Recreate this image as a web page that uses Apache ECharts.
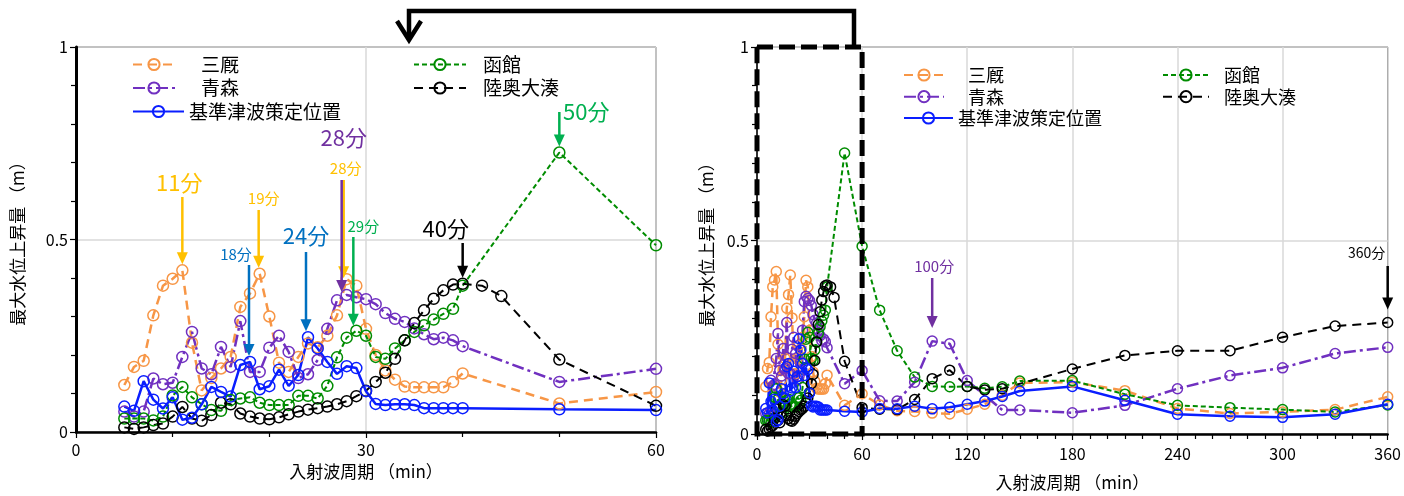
<!DOCTYPE html>
<html><head><meta charset="utf-8">
<script src="https://cdn.jsdelivr.net/npm/echarts@6/dist/echarts.min.js"></script>
<style>html,body{margin:0;padding:0;background:#fff}#c{width:1404px;height:496px}</style>
</head><body><div id="c"></div>
<script>
// ---- data (minutes, max water rise in m) ----
const periods = [5,6,7,8,9,10,11,12,13,14,15,16,17,18,19,20,21,22,23,24,25,26,27,28,29,30,31,32,33,34,35,36,37,38,39,40,
  42,44,50,60,70,80,90,100,110,120,130,140,150,180,210,240,270,300,330,360];
const minmaya = [0.122,0.169,0.185,0.303,0.380,0.398,0.420,0.232,0.108,0.140,
  0.165,0.195,0.325,0.360,0.411,0.300,0.180,0.156,0.195,0.230,
  0.220,0.250,0.303,0.397,0.380,0.268,0.200,0.160,0.136,0.118,
  0.116,0.116,0.116,0.116,0.130,0.152,
  null,null,0.074,0.104,
  0.075,0.060,0.058,0.054,0.052,0.064,0.077,0.100,0.132,
  0.134,0.112,0.066,0.053,0.057,0.063,0.096];
const aomori = [0.053,0.040,0.053,0.139,0.124,0.128,0.195,0.260,0.165,0.150,
  0.221,0.169,0.288,0.156,0.156,0.219,0.250,0.208,0.140,0.150,
  0.187,0.268,0.342,0.356,0.350,0.345,0.332,0.309,0.294,0.286,
  0.269,0.254,0.241,0.245,0.238,0.223,
  null,null,0.130,0.164,
  0.086,0.085,0.134,0.240,0.233,0.138,null,0.062,0.062,
  0.055,0.074,0.117,0.151,0.171,0.208,0.224];
const hakodate = [0.035,0.035,0.035,0.030,0.040,0.095,0.117,0.090,0.072,0.057,
  0.055,0.083,0.087,0.090,0.076,0.070,0.070,0.070,0.094,0.094,
  0.087,0.120,0.194,0.245,0.263,0.250,0.195,0.190,0.217,0.238,
  0.260,0.277,0.292,0.307,0.320,0.380,
  null,null,0.726,0.485,
  0.320,0.215,0.147,0.123,0.122,0.123,0.118,0.122,0.137,
  0.138,0.103,0.074,0.068,0.063,0.057,0.075];
const mutsu = [0.012,0.008,0.012,0.018,0.022,0.040,0.065,0.035,0.029,0.044,
  0.076,0.072,0.048,0.040,0.035,0.033,0.038,0.046,0.053,0.058,
  0.062,0.066,0.072,0.080,0.093,0.107,0.130,0.154,0.190,0.238,
  0.283,0.316,0.346,0.368,0.383,0.385,
  0.380,0.353,0.188,0.068,
  0.064,0.063,0.089,0.143,0.165,0.123,0.114,0.117,null,
  0.168,0.203,0.215,0.215,0.250,0.279,0.288];
const kijun = [0.066,0.055,0.132,0.084,0.061,0.090,0.032,0.037,0.072,0.117,
  0.104,0.092,0.174,0.182,0.111,0.119,0.162,0.120,0.148,0.246,
  0.217,0.182,0.151,0.171,0.166,0.106,0.073,0.070,0.072,0.072,
  0.070,0.062,0.062,0.062,0.062,0.062,
  null,null,0.059,0.057,
  0.066,0.065,0.072,0.065,0.069,0.077,0.085,0.097,0.111,
  0.123,0.087,0.051,0.046,0.043,0.051,0.077];
const names = ['三厩','青森','函館','陸奥大湊','基準津波策定位置'];
const xTicksLeft = [0,30,60];
const xTicksRight = [0,60,120,180,240,300,360];

// ---- styles ----
const FONT = 'Noto Sans CJK JP';
const styles = {
  '三厩': {c:'#F79646', w:2.5, t:[9,6]},
  '青森': {c:'#7030C0', w:2.5, t:[12,4,3,4]},
  '函館': {c:'#008C00', w:2, t:[5,3]},
  '陸奥大湊': {c:'#000000', w:2, t:[9,6]},
  '基準津波策定位置': {c:'#0A1EFF', w:2.5, t:'solid'}
};
const values = {'三厩':minmaya,'青森':aomori,'函館':hakodate,'陸奥大湊':mutsu,'基準津波策定位置':kijun};

function mkSeries(name, gi){
  const s = styles[name];
  const xmax = gi===0 ? xTicksLeft[xTicksLeft.length-1] : xTicksRight[xTicksRight.length-1];
  const data = periods.map((p,i)=>[p, values[name][i]]).filter(d=>d[1]!==null && d[0]<=xmax);
  return {
    type:'line', name, xAxisIndex:gi, yAxisIndex:gi, data,
    symbol:'circle', symbolSize: gi===0?11:10, connectNulls:true,
    lineStyle:{color:s.c, width:s.w, type:s.t},
    itemStyle:{color:'rgba(255,255,255,0)', borderColor:s.c, borderWidth:1.5},
    emphasis:{disabled:true}, animation:false
  };
}
const order = ['三厩','青森','函館','陸奥大湊','基準津波策定位置'];
const series = [];
[0,1].forEach(gi=>order.forEach(n=>series.push(mkSeries(n,gi))));

function xAxis(gi, max, interval, minorSplit, nameGap, margin){
  return {type:'value', gridIndex:gi, min:0, max, interval,
    name:'入射波周期 （min）', nameLocation:'middle', nameGap,
    nameTextStyle:{fontSize:17, color:'#000', fontFamily:FONT},
    axisLine:{show:true, lineStyle:{color:'#000', width:2.5}},
    axisTick:{show:true, length:6, lineStyle:{color:'#000', width:1.2}},
    minorTick:{show:true, splitNumber:minorSplit, length:5, lineStyle:{color:'#000', width:1.2}},
    splitLine:{show:true, lineStyle:{color:'#d9d9d9', width:1.5}},
    axisLabel:{fontSize:16, color:'#000', margin, fontFamily:FONT}};
}
function yAxis(gi, nameGap){
  return {type:'value', gridIndex:gi, min:0, max:1, interval:0.5,
    name:'最大水位上昇量 （m）', nameLocation:'middle', nameGap,
    nameTextStyle:{fontSize:17, color:'#000', fontFamily:FONT},
    axisLine:{show:true, lineStyle:{color:'#000', width:gi===0?3:1.5}},
    axisTick:{show:true, length:6, lineStyle:{color:'#000', width:1.2}},
    minorTick:{show:true, splitNumber:5, length:5, lineStyle:{color:'#000', width:1.2}},
    splitLine:{show:true, lineStyle:{color:'#d9d9d9', width:1.5}},
    axisLabel:{fontSize:16, color:'#000', margin:8, fontFamily:FONT}};
}
function legend(data, left, top, itemWidth, pad, gap, fs){
  return {data, left, top, orient:'vertical', itemWidth, itemHeight:14, itemGap:gap, padding:0,
    selectedMode:false,
    formatter: n => pad>0 ? '{g|}'+n : n,
    textStyle:{fontSize:fs, color:'#000', fontFamily:FONT, rich:{g:{width:pad}}}};
}

const chart = echarts.init(document.getElementById('c'), null, {renderer:'canvas'});
chart.setOption({
  animation:false,
  backgroundColor:'#fff',
  grid:[
    {left:76, top:47, width:580, height:385, show:true, borderColor:'#000', borderWidth:1},
    {left:757, top:47, width:638, height:390, show:true, borderColor:'#000', borderWidth:1}
  ],
  xAxis:[xAxis(0,60,30,3,28,10), xAxis(1,360,60,6,40,12)],
  yAxis:[yAxis(0,50), yAxis(1,42)],
  legend:[
    legend(['三厩','青森'],132,55,42,21,4.5,19),
    legend(['基準津波策定位置'],132,102,51,0,4.5,19),
    legend(['函館','陸奥大湊'],413,55,52,12,4.5,19),
    legend(['三厩','青森'],903,66,40,19,3.7,18),
    legend(['基準津波策定位置'],903,109,49,0,3.7,18),
    legend(['函館','陸奥大湊'],1162,66,46,10,3.7,18)
  ],
  series
});

// ---- annotations (arrows pointing at data points) ----
const Y='#FFC000', B='#0070C0', P='#7030A0', G='#00B050', K='#000000';
const notes = [
  {text:'11分', color:Y, size:22, grid:0, s:'三厩', at:11, dx:0, gap:6, top:197, tdx:-3, ty:183},
  {text:'19分', color:Y, size:15, grid:0, s:'三厩', at:19, dx:-1, gap:6, top:210, tdx:5, ty:198},
  {text:'18分', color:B, size:15, grid:0, s:'基準津波策定位置', at:18, dx:-1, gap:6, top:265, tdx:-13, ty:254},
  {text:'24分', color:B, size:22, grid:0, s:'基準津波策定位置', at:24, dx:-2, gap:6, top:252, tdx:0, ty:236},
  {text:'28分', color:Y, size:15, grid:0, s:'三厩', at:28, dx:-3, gap:1, top:180, tdx:2, ty:168},
  {text:'28分', color:P, size:22, grid:0, s:'青森', at:28, dx:-5, gap:3, top:180, tdx:2, ty:138},
  {text:'29分', color:G, size:15, grid:0, s:'函館', at:29, dx:-3, gap:5, top:237, tdx:10, ty:226},
  {text:'40分', color:K, size:22, grid:0, s:'陸奥大湊', at:40, dx:0, gap:6, top:243, tdx:-17, ty:229},
  {text:'50分', color:G, size:22, grid:0, s:'函館', at:50, dx:0, gap:6, top:112, tdx:27, ty:112},
  {text:'100分', color:P, size:15, grid:1, s:'青森', at:100, dx:0, gap:13, top:278, tdx:2, ty:266},
  {text:'360分', color:K, size:14, grid:1, s:'陸奥大湊', at:360, dx:0, gap:13, top:266, tdx:-21, ty:253}
];
const g = [];
notes.forEach(n=>{
  const v = values[n.s][periods.indexOf(n.at)];
  const p = chart.convertToPixel({gridIndex:n.grid}, [n.at, v]);
  const x = p[0] + n.dx, tip = p[1] - n.gap;
  g.push({type:'line', z:50, shape:{x1:x, y1:n.top, x2:x, y2:tip-10}, style:{stroke:n.color, lineWidth:2.5}});
  g.push({type:'polygon', z:50, shape:{points:[[x-5.5,tip-12],[x+5.5,tip-12],[x,tip]]}, style:{fill:n.color}});
  g.push({type:'text', z:50, x:x+n.tdx, y:n.ty, style:{text:n.text, fill:n.color, fontSize:n.size, fontFamily:FONT, align:'center', verticalAlign:'middle'}});
});
// dashed zoom box on the right panel (0-60 min, 0-1 m)
const a = chart.convertToPixel({gridIndex:1}, [0,1]);
const b = chart.convertToPixel({gridIndex:1}, [60,0]);
g.push({type:'rect', z:60, shape:{x:a[0], y:a[1], width:b[0]-a[0], height:b[1]-a[1]},
  style:{fill:null, stroke:'#000', lineWidth:5, lineDash:[16,6]}});
// connector arrow from the box to the left panel
g.push({type:'polyline', z:60, shape:{points:[[854,a[1]],[854,11],[409,11],[409,38]]},
  style:{fill:null, stroke:'#000', lineWidth:4.5}});
g.push({type:'polyline', z:60, shape:{points:[[397,21],[409,40],[421,21]]},
  style:{fill:null, stroke:'#000', lineWidth:4.5}});
chart.setOption({graphic:g});
</script></body></html>
